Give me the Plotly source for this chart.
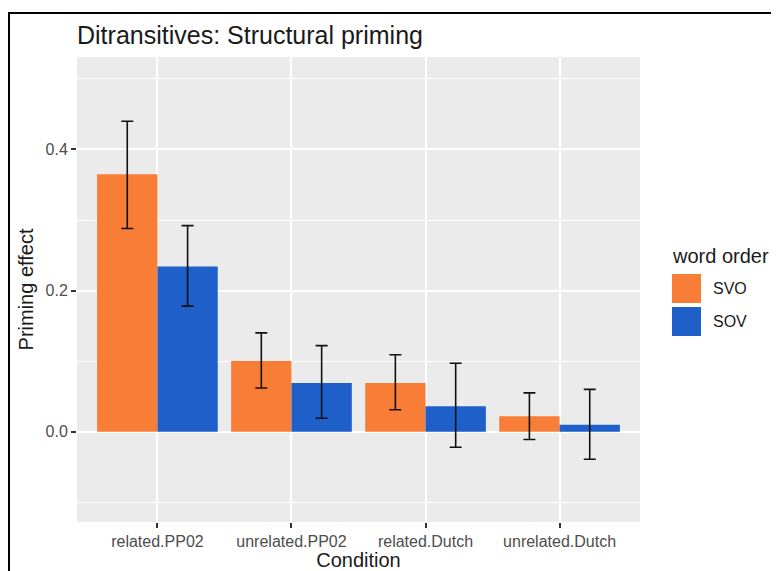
import plotly.graph_objects as go

categories = ["related.PP02", "unrelated.PP02", "related.Dutch", "unrelated.Dutch"]
svo_mean = [0.365, 0.100, 0.069, 0.022]
svo_low = [0.288, 0.062, 0.031, -0.011]
svo_high = [0.440, 0.140, 0.109, 0.055]
sov_mean = [0.234, 0.069, 0.036, 0.010]
sov_low = [0.178, 0.019, -0.022, -0.039]
sov_high = [0.292, 0.122, 0.097, 0.060]
series_names = ["SVO", "SOV"]
colors = ["#F87D36", "#1E5FC9"]
FONT = "Liberation Sans, Arial, Helvetica, sans-serif"

fig = go.Figure()
for name, col, m, lo, hi in [
    (series_names[0], colors[0], svo_mean, svo_low, svo_high),
    (series_names[1], colors[1], sov_mean, sov_low, sov_high),
]:
    fig.add_trace(go.Bar(
        x=categories, y=m, name=name, marker=dict(color=col, line=dict(width=0)),
        error_y=dict(type="data", symmetric=False,
                     array=[h - v for h, v in zip(hi, m)],
                     arrayminus=[v - l for v, l in zip(m, lo)],
                     color="#111111", thickness=1.6, width=6),
        showlegend=False,
    ))

# page body has an 8px margin: figure is placed at (8, 8) in the window
OFF = 8
W, H = 779 - OFF, 571 - OFF
L, R, T, B = 77 - OFF, 139, 57 - OFF, 49
pw, ph = W - L - R, H - T - B

def px(x):
    return (x - OFF - L) / pw

def py(y):
    return (H - B - (y - OFF)) / ph

shapes = [
    dict(type="rect", xref="paper", yref="paper", x0=px(9), x1=1.6, y0=-0.5, y1=py(13),
         line=dict(color="black", width=2), fillcolor="rgba(0,0,0,0)", layer="above"),
]
annotations = [
    dict(text="word order", xref="paper", yref="paper", x=px(670), y=py(256),
         xanchor="left", yanchor="middle", showarrow=False,
         font=dict(family=FONT, size=20, color="#1a1a1a")),
]
for i, (name, col) in enumerate(zip(series_names, colors)):
    y0 = 274 + i * 33
    shapes.append(dict(type="rect", xref="paper", yref="paper", x0=px(672), x1=px(701),
                       y0=py(y0 + 29), y1=py(y0), fillcolor=col, line=dict(width=0)))
    annotations.append(dict(text=name, xref="paper", yref="paper", x=px(711), y=py(y0 + 14.5),
                            xanchor="left", yanchor="middle", showarrow=False,
                            font=dict(family=FONT, size=16, color="#1a1a1a")))

fig.update_layout(
    width=W, height=H,
    margin=dict(l=L, r=R, t=T, b=B, autoexpand=False),
    paper_bgcolor="white", plot_bgcolor="#EBEBEB",
    barmode="group", bargap=0.1, bargroupgap=0,
    font=dict(family=FONT, color="#1a1a1a"),
    title=dict(text="Ditransitives: Structural priming", x=0, xanchor="left",
               xref="paper", y=1 - (35 - OFF) / H, yanchor="middle", yref="container",
               font=dict(family=FONT, size=25, color="#1a1a1a")),
    xaxis=dict(
        range=[-0.6, 3.6], showgrid=True, gridcolor="white", gridwidth=2,
        ticks="outside", ticklen=5, tickwidth=1.5, tickcolor="#333333",
        tickfont=dict(family=FONT, size=16, color="#4d4d4d"),
        title=dict(text="Condition", font=dict(family=FONT, size=20, color="#1a1a1a"), standoff=2),
        zeroline=False, showline=False, fixedrange=True,
    ),
    yaxis=dict(
        range=[-0.128, 0.531], tickvals=[0.0, 0.2, 0.4], ticktext=["0.0", "0.2", "0.4"],
        showgrid=True, gridcolor="white", gridwidth=2,
        minor=dict(tickvals=[-0.1, 0.1, 0.3, 0.5], showgrid=True, gridcolor="white", gridwidth=1, ticks=""),
        ticks="outside", ticklen=5, tickwidth=1.5, tickcolor="#333333",
        tickfont=dict(family=FONT, size=16, color="#4d4d4d"),
        title=dict(text="Priming effect", font=dict(family=FONT, size=20, color="#1a1a1a"), standoff=6),
        zeroline=False, showline=False, fixedrange=True,
    ),
    shapes=shapes, annotations=annotations,
)

fig.write_html("out.html")
